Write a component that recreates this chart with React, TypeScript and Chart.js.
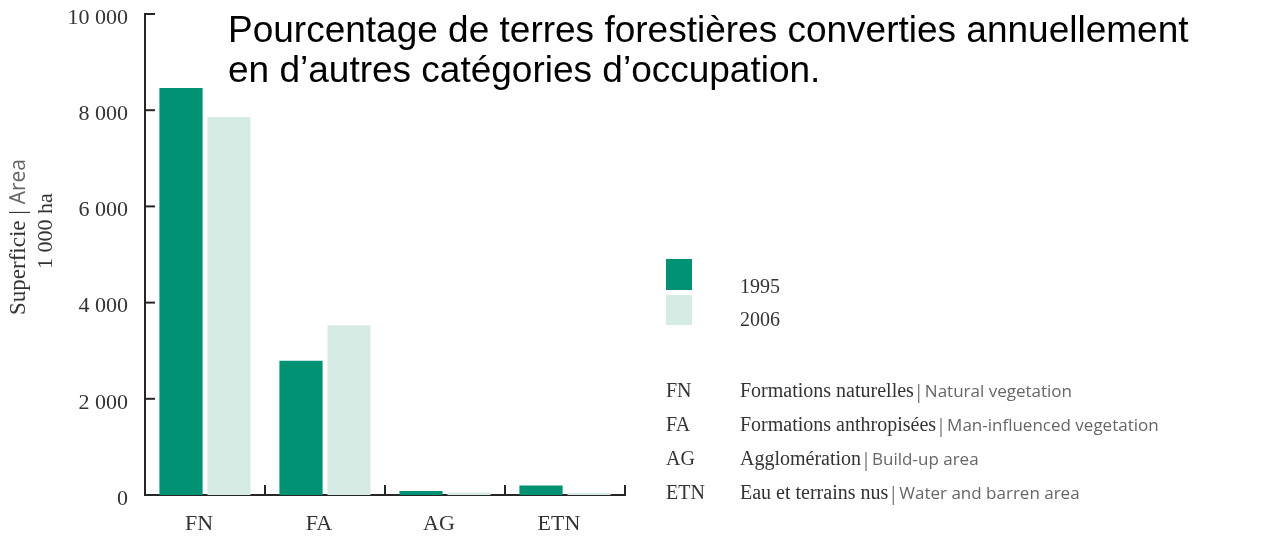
import { useEffect, useRef } from "react";
import { Chart, registerables } from "chart.js";

Chart.register(...registerables);

const categories = ["FN", "FA", "AG", "ETN"];
const series1995 = [8460, 2790, 85, 200];
const series2006 = [7860, 3530, 50, 40];
const seriesLabels = ["1995", "2006"];
const yTickValues = [0, 2000, 4000, 6000, 8000, 10000];
const yTickLabels = ["0", "2 000", "4 000", "6 000", "8 000", "10 000"];
const categoryNamesFr = [
  "Formations naturelles",
  "Formations anthropisées",
  "Agglomération",
  "Eau et terrains nus",
];
const categoryNamesEn = [
  "Natural vegetation",
  "Man-influenced vegetation",
  "Build-up area",
  "Water and barren area",
];
const titleLines = [
  "Pourcentage de terres forestières converties annuellement",
  "en d’autres catégories d’occupation.",
];
const yTitleFr = "Superficie";
const yTitleEn = "Area";
const yUnit = "1 000 ha";

const DARK = "#009272";
const LIGHT = "#d6ebe4";
const AXIS = "#262626";
const TEXT = "#333333";
const SERIF = '"Liberation Serif", "DejaVu Serif", serif';
const SANS = '"Open Sans", "Noto Sans", sans-serif';

const decorPlugin = {
  id: "decor",
  afterDraw(chart: any) {
    const ctx: CanvasRenderingContext2D = chart.ctx;
    const { left, bottom } = chart.chartArea;
    const xs = chart.scales.x;
    const ys = chart.scales.y;
    ctx.save();

    // inward tick marks
    ctx.strokeStyle = AXIS;
    ctx.lineWidth = 2;
    yTickValues.forEach((v) => {
      const y = ys.getPixelForValue(v);
      ctx.beginPath();
      ctx.moveTo(left, y);
      ctx.lineTo(left + 10, y);
      ctx.stroke();
    });
    for (let i = 1; i <= categories.length; i++) {
      const x = xs.getPixelForValue(i - 0.5);
      ctx.beginPath();
      ctx.moveTo(x, bottom + 1);
      ctx.lineTo(x, bottom - 10);
      ctx.stroke();
    }

    // title
    ctx.fillStyle = "#000";
    ctx.textAlign = "left";
    ctx.textBaseline = "alphabetic";
    ctx.font = `37px "Liberation Sans", Arial, sans-serif`;
    titleLines.forEach((t, i) => ctx.fillText(t, 228, 42 + i * 40));

    // y axis title (rotated)
    const drawRotated = (cx: number, cy: number, parts: { t: string; f: string; c: string }[]) => {
      ctx.save();
      ctx.translate(cx, cy);
      ctx.rotate(-Math.PI / 2);
      ctx.textBaseline = "middle";
      let total = 0;
      const widths = parts.map((p) => {
        ctx.font = p.f;
        const w = ctx.measureText(p.t).width;
        total += w;
        return w;
      });
      let x = -total / 2;
      parts.forEach((p, i) => {
        ctx.font = p.f;
        ctx.fillStyle = p.c;
        ctx.fillText(p.t, x, 0);
        x += widths[i];
      });
      ctx.restore();
    };
    drawRotated(19, 237, [
      { t: yTitleFr + " ", f: `23px ${SERIF}`, c: TEXT },
      { t: "| ", f: `23px ${SERIF}`, c: TEXT },
      { t: yTitleEn, f: `21px ${SANS}`, c: "#666" },
    ]);
    drawRotated(46, 231, [{ t: yUnit, f: `22px ${SERIF}`, c: TEXT }]);

    // series legend
    const ds = chart.data.datasets;
    const sqTops = [259, 295];
    const sqH = [31, 30];
    ds.forEach((d: any, i: number) => {
      ctx.fillStyle = d.backgroundColor;
      ctx.fillRect(666, sqTops[i], 26, sqH[i]);
      ctx.fillStyle = TEXT;
      ctx.font = `20px ${SERIF}`;
      ctx.textBaseline = "alphabetic";
      ctx.fillText(seriesLabels[i], 740, 293 + i * 33);
    });

    // category legend
    categories.forEach((c, i) => {
      const y = 397 + i * 34;
      ctx.textBaseline = "alphabetic";
      ctx.font = `20px ${SERIF}`;
      ctx.fillStyle = TEXT;
      ctx.fillText(c, 666, y);
      let x = 740;
      ctx.fillText(categoryNamesFr[i], x, y);
      x += ctx.measureText(categoryNamesFr[i]).width + 3;
      ctx.fillStyle = "#555";
      ctx.fillText("|", x, y + 1);
      x += ctx.measureText("|").width + 4;
      ctx.font = `17px ${SANS}`;
      ctx.fillStyle = "#666";
      ctx.fillText(categoryNamesEn[i], x, y);
    });

    ctx.restore();
  },
};

export default function App() {
  const ref = useRef<HTMLCanvasElement | null>(null);
  useEffect(() => {
    if (!ref.current) return;
    const chart = new Chart(ref.current, {
      type: "bar",
      data: {
        labels: categories,
        datasets: [
          { label: seriesLabels[0], data: series1995, backgroundColor: DARK, borderWidth: 0 },
          { label: seriesLabels[1], data: series2006, backgroundColor: LIGHT, borderWidth: 0 },
        ],
      },
      options: {
        responsive: false,
        animation: false,
        devicePixelRatio: 1,
        layout: { autoPadding: false, padding: { left: 0, right: 661, top: 14, bottom: 0 } },
        plugins: {
          legend: { display: false },
          tooltip: { enabled: false },
          title: { display: false },
        },
        datasets: { bar: { categoryPercentage: 0.8, barPercentage: 0.9 } },
        scales: {
          x: {
            type: "category",
            grid: { display: false, drawTicks: false },
            border: { display: true, color: AXIS, width: 2 },
            ticks: { font: { family: SERIF, size: 22 }, color: TEXT, padding: 16, labelOffset: -6 },
            afterFit: (s: any) => {
              s.height = 41;
              s.paddingLeft = 0;
              s.paddingRight = 0;
            },
          },
          y: {
            type: "linear",
            min: 0,
            max: 10000,
            grid: { display: false, drawTicks: false },
            border: { display: true, color: AXIS, width: 2 },
            afterBuildTicks: (s: any) => {
              s.ticks = yTickValues.map((v) => ({ value: v }));
            },
            ticks: {
              font: { family: SERIF, size: 22 },
              color: TEXT,
              padding: 17,
              labelOffset: 4,
              callback: (v: any) => yTickLabels[yTickValues.indexOf(Number(v))] ?? "",
            },
            afterFit: (s: any) => {
              s.width = 145;
              s.paddingTop = 0;
              s.paddingBottom = 0;
            },
          },
        },
      },
      plugins: [decorPlugin],
    } as any);
    return () => chart.destroy();
  }, []);
  return (
    <div style={{ position: "fixed", left: 0, top: 0, width: 1286, height: 536, background: "#fff" }}>
      <canvas ref={ref} width={1286} height={536} style={{ display: "block" }} />
    </div>
  );
}
